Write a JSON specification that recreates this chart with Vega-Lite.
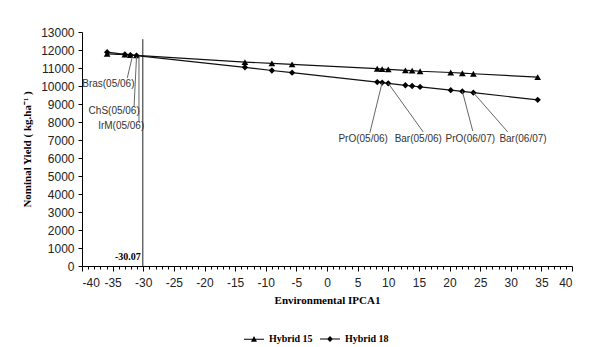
{
  "$schema": "https://vega.github.io/schema/vega-lite/v6.json",
  "width": 490,
  "height": 234,
  "autosize": "none",
  "padding": {"left": 82, "top": 32, "right": 31, "bottom": 81},
  "background": "white",
  "config": {"view": {"stroke": null}},
  "datasets": {
    "yields": [
      {"env": 1, "x": -35.9, "series": "Hybrid 15", "y": 11790},
      {"env": 2, "x": -33.0, "series": "Hybrid 15", "y": 11740},
      {"env": 3, "x": -32.1, "series": "Hybrid 15", "y": 11720},
      {"env": 4, "x": -31.1, "series": "Hybrid 15", "y": 11700},
      {"env": 5, "x": -13.4, "series": "Hybrid 15", "y": 11330},
      {"env": 6, "x": -9.0, "series": "Hybrid 15", "y": 11260},
      {"env": 7, "x": -5.7, "series": "Hybrid 15", "y": 11200},
      {"env": 8, "x": 8.2, "series": "Hybrid 15", "y": 10960},
      {"env": 9, "x": 9.0, "series": "Hybrid 15", "y": 10940},
      {"env": 10, "x": 10.0, "series": "Hybrid 15", "y": 10920},
      {"env": 11, "x": 12.8, "series": "Hybrid 15", "y": 10870},
      {"env": 12, "x": 13.9, "series": "Hybrid 15", "y": 10850},
      {"env": 13, "x": 15.2, "series": "Hybrid 15", "y": 10820},
      {"env": 14, "x": 20.2, "series": "Hybrid 15", "y": 10750},
      {"env": 15, "x": 22.1, "series": "Hybrid 15", "y": 10710},
      {"env": 16, "x": 23.9, "series": "Hybrid 15", "y": 10680},
      {"env": 17, "x": 34.4, "series": "Hybrid 15", "y": 10490},
      {"env": 1, "x": -35.9, "series": "Hybrid 18", "y": 11880},
      {"env": 2, "x": -33.0, "series": "Hybrid 18", "y": 11760},
      {"env": 3, "x": -32.1, "series": "Hybrid 18", "y": 11720},
      {"env": 4, "x": -31.1, "series": "Hybrid 18", "y": 11690},
      {"env": 5, "x": -13.4, "series": "Hybrid 18", "y": 11040},
      {"env": 6, "x": -9.0, "series": "Hybrid 18", "y": 10860},
      {"env": 7, "x": -5.7, "series": "Hybrid 18", "y": 10740},
      {"env": 8, "x": 8.2, "series": "Hybrid 18", "y": 10220},
      {"env": 9, "x": 9.0, "series": "Hybrid 18", "y": 10190},
      {"env": 10, "x": 10.0, "series": "Hybrid 18", "y": 10150},
      {"env": 11, "x": 12.8, "series": "Hybrid 18", "y": 10040},
      {"env": 12, "x": 13.9, "series": "Hybrid 18", "y": 10000},
      {"env": 13, "x": 15.2, "series": "Hybrid 18", "y": 9950},
      {"env": 14, "x": 20.2, "series": "Hybrid 18", "y": 9770},
      {"env": 15, "x": 22.1, "series": "Hybrid 18", "y": 9700},
      {"env": 16, "x": 23.9, "series": "Hybrid 18", "y": 9630},
      {"env": 17, "x": 34.4, "series": "Hybrid 18", "y": 9230}
    ],
    "labels": [
      {"label": "Bras(05/06)", "x": -35.7, "y": 10110, "lx1": -32.6, "ly1": 10450, "lx2": -31.8, "ly2": 11620},
      {"label": "ChS(05/06)", "x": -34.75, "y": 8610, "lx1": -31.5, "ly1": 8850, "lx2": -31.1, "ly2": 11620},
      {"label": "IrM(05/06)", "x": -33.6, "y": 7780, "lx1": -30.7, "ly1": 8000, "lx2": -30.7, "ly2": 11620},
      {"label": "PrO(05/06)", "x": 5.9, "y": 7050, "lx1": 7.0, "ly1": 7400, "lx2": 9.0, "ly2": 10190},
      {"label": "Bar(05/06)", "x": 14.9, "y": 7050, "lx1": 15.7, "ly1": 7450, "lx2": 10.0, "ly2": 10150},
      {"label": "PrO(06/07)", "x": 23.4, "y": 7050, "lx1": 23.8, "ly1": 7500, "lx2": 22.1, "ly2": 9700},
      {"label": "Bar(06/07)", "x": 32.0, "y": 7050, "lx1": 29.5, "ly1": 7450, "lx2": 23.9, "ly2": 9630}
    ],
    "ref": [
      {"x": -30.07, "y": 0, "y2": 12600, "label": "-30.07", "ty": 500}
    ]
  },
  "encoding": {
    "x": {
      "field": "x", "type": "quantitative",
      "scale": {"domain": [-40, 40], "nice": false, "zero": false},
      "axis": {
        "title": "Environmental IPCA1",
        "values": [-40,-39,-38,-37,-36,-35,-34,-33,-32,-31,-30,-29,-28,-27,-26,-25,-24,-23,-22,-21,-20,-19,-18,-17,-16,-15,-14,-13,-12,-11,-10,-9,-8,-7,-6,-5,-4,-3,-2,-1,0,1,2,3,4,5,6,7,8,9,10,11,12,13,14,15,16,17,18,19,20,21,22,23,24,25,26,27,28,29,30,31,32,33,34,35,36,37,38,39,40],
        "labelExpr": "datum.value % 5 == 0 ? '' + datum.value : ''",
        "tickSize": {"condition": {"test": "datum.value % 5 == 0", "value": 5}, "value": 3},
        "grid": false,
        "domainColor": "#000", "tickColor": "#000",
        "labelFont": "Liberation Sans", "labelFontSize": 12, "labelColor": "#222",
        "labelPadding": 6, "labelOverlap": false,
        "titleFont": "Liberation Serif", "titleFontSize": 11, "titleFontWeight": "bold", "titleColor": "#000",
        "titlePadding": 6
      }
    },
    "y": {
      "field": "y", "type": "quantitative",
      "scale": {"domain": [0, 13000], "nice": false},
      "axis": {
        "title": "Nominal Yield ( kg.ha⁻¹ )",
        "values": [0,1000,2000,3000,4000,5000,6000,7000,8000,9000,10000,11000,12000,13000],
        "format": "d",
        "grid": false,
        "tickSize": 4,
        "domainColor": "#000", "tickColor": "#000",
        "labelFont": "Liberation Sans", "labelFontSize": 12, "labelColor": "#222",
        "labelPadding": 4,
        "titleFont": "Liberation Serif", "titleFontSize": 11, "titleFontWeight": "bold", "titleColor": "#000",
        "titlePadding": 8
      }
    }
  },
  "layer": [
    {
      "data": {"name": "ref"},
      "mark": {"type": "rule", "color": "#222", "strokeWidth": 1},
      "encoding": {"y2": {"field": "y2"}}
    },
    {
      "data": {"name": "ref"},
      "mark": {"type": "text", "align": "right", "baseline": "middle", "dx": -2, "font": "Liberation Serif", "fontSize": 10, "fontWeight": "bold", "color": "#000"},
      "encoding": {
        "y": {"field": "ty", "type": "quantitative", "title": "Nominal Yield ( kg.ha⁻¹ )"},
        "text": {"field": "label"}
      }
    },
    {
      "data": {"name": "yields"},
      "mark": {"type": "line", "color": "#111", "strokeWidth": 1.2},
      "encoding": {"detail": {"field": "series"}}
    },
    {
      "data": {"name": "yields"},
      "transform": [{"filter": "datum.series === 'Hybrid 15'"}],
      "mark": {"type": "point", "filled": true, "opacity": 1, "color": "#000", "size": 45, "shape": "triangle-up"}
    },
    {
      "data": {"name": "yields"},
      "transform": [{"filter": "datum.series === 'Hybrid 18'"}],
      "mark": {"type": "point", "filled": true, "opacity": 1, "color": "#000", "size": 40, "shape": "diamond"}
    },
    {
      "data": {"name": "yields"},
      "transform": [{"filter": "false"}],
      "mark": {"type": "point", "filled": true, "opacity": 1, "color": "#000"},
      "encoding": {
        "shape": {
          "field": "series", "type": "nominal",
          "scale": {"domain": ["Hybrid 15", "Hybrid 18"], "range": ["M-1,-0.05L1,-0.05L1,0.05L-1,0.05ZM0,-0.32L0.3,0.24L-0.3,0.24Z", "M-1,-0.05L1,-0.05L1,0.05L-1,0.05ZM0,-0.3L0.3,0L0,0.3L-0.3,0Z"]},
          "legend": {
            "title": null,
            "orient": "none",
            "legendX": 161,
            "legendY": 296,
            "direction": "horizontal",
            "columns": 2,
            "columnPadding": 4,
            "symbolSize": 400,
            "symbolFillColor": "#000",
            "symbolOpacity": 1,
            "labelOffset": 4,
            "labelFont": "Liberation Serif",
            "labelFontSize": 10,
            "labelFontWeight": "bold",
            "labelColor": "#000"
          }
        }
      }
    },
    {
      "data": {"name": "labels"},
      "mark": {"type": "rule", "color": "#666", "strokeWidth": 1},
      "encoding": {
        "x": {"field": "lx1", "type": "quantitative", "title": "Environmental IPCA1"},
        "y": {"field": "ly1", "type": "quantitative", "title": "Nominal Yield ( kg.ha⁻¹ )"},
        "x2": {"field": "lx2"},
        "y2": {"field": "ly2"}
      }
    },
    {
      "data": {"name": "labels"},
      "mark": {"type": "text", "align": "center", "baseline": "middle", "font": "Liberation Sans", "fontSize": 10, "color": "#333"},
      "encoding": {"text": {"field": "label"}}
    }
  ]
}
